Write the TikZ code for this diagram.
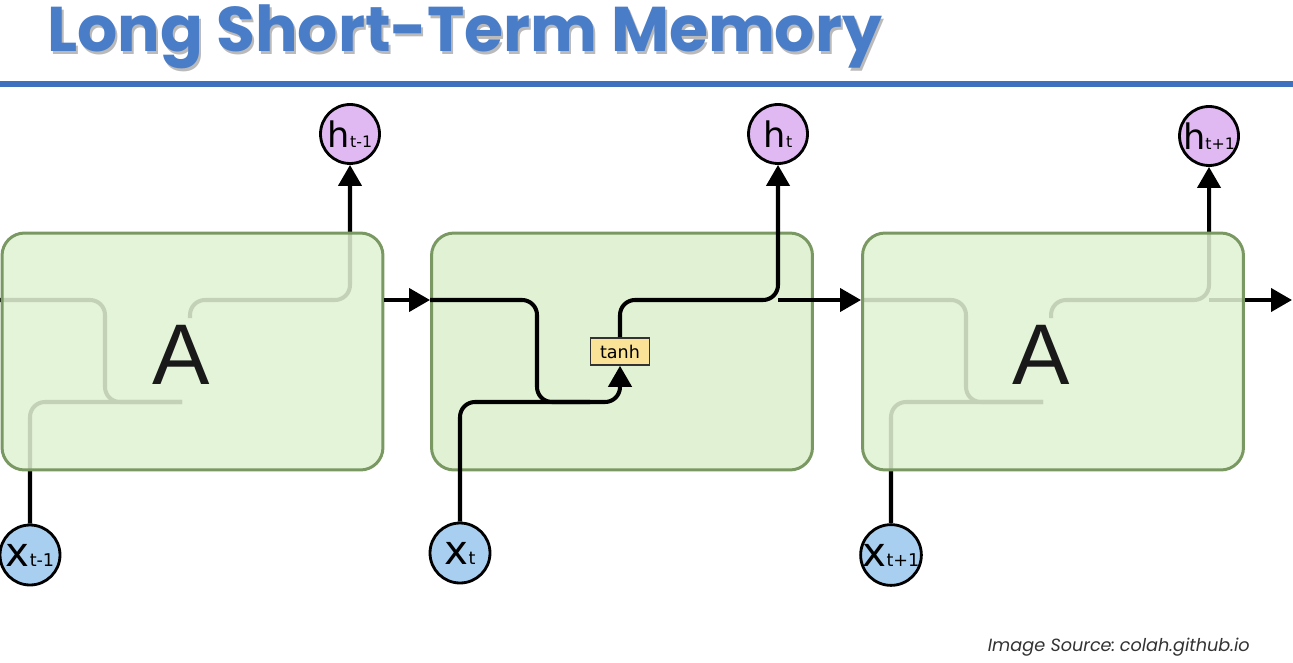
\documentclass[tikz,border=0pt]{standalone}
\usepackage{fontspec}
\setmainfont{DejaVu Sans}
\newfontfamily\titlefont{Poppins}
\newfontfamily\afont{Liberation Sans}
\usetikzlibrary{arrows.meta}
\definecolor{boxfill}{HTML}{E0F2D3}
\definecolor{boxdraw}{HTML}{7A9862}
\definecolor{hfill}{HTML}{E0B8F2}
\definecolor{xfill}{HTML}{A8CEF0}
\definecolor{tanhfill}{HTML}{FAE397}
\definecolor{titleblue}{HTML}{4A7DC8}
\definecolor{ruleblue}{HTML}{3F70BF}
\begin{document}
\begin{tikzpicture}[x=0.02cm,y=-0.02cm,
  conn/.style={line width=2.3pt,rounded corners=0.3cm,line join=round},
  tip/.style={-{Triangle[length=0.42cm,width=0.46cm]}},
  cell/.style={draw=boxdraw,line width=1.7pt,fill=boxfill,rounded corners=0.45cm,minimum width=7.62cm,minimum height=4.74cm,inner sep=0pt},
  ghostcell/.style={cell,fill opacity=0.87,text opacity=1},
  hnode/.style={circle,draw=black,line width=1.6pt,fill=hfill,minimum size=1.18cm,inner sep=0pt},
  xnode/.style={circle,draw=black,line width=1.6pt,fill=xfill,minimum size=1.2cm,inner sep=0pt},
  tanhnode/.style={draw=black!80,line width=0.9pt,fill=tanhfill,minimum width=1.18cm,minimum height=0.54cm,inner sep=0pt,font=\fontsize{10}{10}\selectfont},
  bigA/.style={font=\afont\fontsize{49}{49}\selectfont,text=black!90},
]
\useasboundingbox (0,0) rectangle (1293,662);

% title
\node[anchor=base west,text=black!45,opacity=0.6] (titleshadow) at (43,54.5) {\resizebox{16.7cm}{!}{\titlefont\bfseries Long Short-Term Memory}};
\node[anchor=base west,text=titleblue] (title) at (41,52) {\resizebox{16.7cm}{!}{\titlefont\bfseries Long Short-Term Memory}};
\coordinate (ruleL) at (0,84);
\coordinate (ruleR) at (1293,84);
\draw[ruleblue,line width=0.13cm] (ruleL) -- (ruleR);

% circles
\node[hnode] (h1) at (350,134) {{\fontsize{20}{20}\selectfont h}{\fontsize{9}{9}\selectfont t-1}};
\node[hnode] (h2) at (778,134) {{\fontsize{20}{20}\selectfont h}{\fontsize{9}{9}\selectfont t}};
\node[hnode] (h3) at (1209,136) {{\fontsize{20}{20}\selectfont h}{\fontsize{9}{9}\selectfont t+1}};
\node[xnode] (x1) at (30,555) {{\fontsize{23}{23}\selectfont x}{\fontsize{10}{10}\selectfont t-1}};
\node[xnode] (x2) at (460,553) {{\fontsize{23}{23}\selectfont x}{\fontsize{10}{10}\selectfont t}};
\node[xnode] (x3) at (891,555) {{\fontsize{23}{23}\selectfont x}{\fontsize{10}{10}\selectfont t+1}};

% ---------- cell 1 (hidden interior) ----------
\coordinate (c1in) at (0,300);
\coordinate (c1j) at (105,402);
\coordinate (c1k) at (182,402);
\coordinate (c1t) at (190,318);
\coordinate (c1hv) at (350,300);
\draw[conn] (c1in) -| (c1j) -- (c1k);
\draw[conn] (x1.north) |- (c1k);
\draw[conn,tip] (c1t) |- (c1hv) -- (h1.south);
\node[ghostcell] (A1) at (192.5,351.5) {};
\node[bigA] (A1t) at (181,355) {A};

% ---------- cell 3 (hidden interior) ----------
\coordinate (c3j) at (966,402);
\coordinate (c3k) at (1043,402);
\coordinate (c3t) at (1051,318);
\coordinate (c3hv) at (1209,300);
\coordinate (c3out) at (1292,300);
\node[cell,draw=none,fill=none] (A3) at (1053,351.5) {};
\draw[conn] (A3.west |- c3hv) -| (c3j) -- (c3k);
\draw[conn] (x3.north) |- (c3k);
\draw[conn,tip] (c3t) |- (c3hv) -- (h3.south);
\draw[conn,rounded corners=0pt,tip] (c3hv) -- (c3out);
\node[ghostcell] (A3b) at (A3) {};
\node[bigA] (A3t) at (1041,355) {A};

% ---------- cell 2 (visible) ----------
\node[cell] (A2) at (622,351.5) {};
\node[tanhnode] (tanh) at (620,351.5) {tanh};
\coordinate (c2j) at (537,402);
\coordinate (c2m) at (590,402);
\coordinate (c2k) at (620,402);
\coordinate (c2hv) at (778,300);
\draw[conn,tip] (A2.west |- c2hv) -| (c2j) -- (c2k) -- (tanh.south);
\draw[conn] (x2.north) |- (c2m);
\draw[conn,tip] (tanh.north) |- (c2hv) -- (h2.south);

% arrows between cells
\draw[conn,rounded corners=0pt,tip] (A1.east |- c1hv) -- (A2.west |- c1hv);
\draw[conn,rounded corners=0pt,tip] (c2hv) -- (A3.west |- c2hv);

% footer
\node[anchor=base east,text=black!80] (src) at (1256,651) {\resizebox{5.24cm}{!}{\titlefont\itshape Image Source:\hspace{-0.15em} colah.github.io}};
\end{tikzpicture}
\end{document}
